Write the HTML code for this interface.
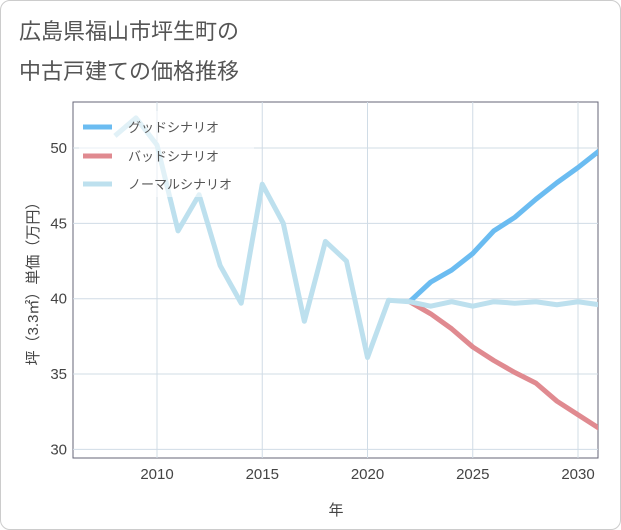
<!DOCTYPE html>
<html><head><meta charset="utf-8"><style>
body{margin:0;background:#fff;font-family:"Liberation Sans","Noto Sans CJK JP",sans-serif;}
#wrap{position:relative;width:619px;height:528px;border:1px solid #ccc;border-radius:10px;overflow:hidden}
</style></head><body>
<div id="wrap">
<svg id="c" width="619" height="528">
<text x="18" y="38" font-size="22" fill="#555">広島県福山市坪生町の</text>
<text x="18" y="78" font-size="22" fill="#555">中古戸建ての価格推移</text>
<rect x="72" y="101" width="525" height="356" fill="#fff" stroke="#667"/>
<g id="grid"></g><g id="series"></g>
<text x="335" y="514" font-size="15" fill="#444" text-anchor="middle">年</text>
<text transform="translate(37,279) rotate(-90)" font-size="15" fill="#444" text-anchor="middle">坪（3.3㎡）単価（万円）</text>
<g>
<rect x="78" y="110" width="175" height="86" fill="#fff" opacity="0.55"/>
<line x1="82" y1="126" x2="111" y2="126" stroke="#6bbcf1" stroke-width="5"/><text x="127" y="131" font-size="13" fill="#555">グッドシナリオ</text>
<line x1="82" y1="155" x2="111" y2="155" stroke="#e08a90" stroke-width="5"/><text x="127" y="160" font-size="13" fill="#555">バッドシナリオ</text>
<line x1="82" y1="183" x2="111" y2="183" stroke="#bde0ee" stroke-width="5"/><text x="127" y="188" font-size="13" fill="#555">ノーマルシナリオ</text>
</g>
</svg></div>
<script>
const normalYears=[2008,2009,2010,2011,2012,2013,2014,2015,2016,2017,2018,2019,2020,2021,2022,2023,2024,2025,2026,2027,2028,2029,2030,2031];
const normalVals=[50.8,52,50.2,44.5,46.9,42.2,39.7,47.6,45,38.5,43.8,42.5,36.1,39.9,39.8,39.5,39.8,39.5,39.8,39.7,39.8,39.6,39.8,39.6];
const futureYears=[2022,2023,2024,2025,2026,2027,2028,2029,2030,2031];
const goodVals=[39.8,41.1,41.9,43,44.5,45.4,46.6,47.7,48.7,49.8];
const badVals=[39.8,39,38,36.8,35.9,35.1,34.4,33.2,32.3,31.4];
const xTicks=[2010,2015,2020,2025,2030];
const yTicks=[30,35,40,45,50];
const NS='http://www.w3.org/2000/svg';
const X=y=>156+(y-2010)*21.05, Y=v=>147+(50-v)*15.07;
const grid=document.getElementById('grid'), ser=document.getElementById('series');
function mk(t,a,p){const e=document.createElementNS(NS,t);for(const k in a)e.setAttribute(k,a[k]);p.appendChild(e);return e;}
xTicks.forEach(t=>{const l=mk('line',{x1:X(t),x2:X(t),y1:101,y2:457,stroke:'#d0dce6'},grid);


const s=mk('text',{x:X(t),y:478,'font-size':15,fill:'#444','text-anchor':'middle'},grid);s.textContent=t;

});
yTicks.forEach(t=>{const l=mk('line',{x1:72,x2:597,y1:Y(t),y2:Y(t),stroke:'#d0dce6'},grid);


const s=mk('text',{x:66,y:Y(t)+5,'font-size':15,fill:'#444','text-anchor':'end'},grid);s.textContent=t;

});
function line(xs,vs,col,name){const p=mk('polyline',{points:xs.map((x,i)=>X(x)+','+Y(vs[i])).join(' '),fill:'none',stroke:col,'stroke-width':5,'stroke-linejoin':'round'},ser);

}
line(futureYears,goodVals,'#6bbcf1','good-scenario-line');
line(futureYears,badVals,'#e08a90','bad-scenario-line');
line(normalYears,normalVals,'#bde0ee','normal-scenario-line');
const cp=mk('clipPath',{id:'cl'},document.getElementById('c'));mk('rect',{x:72,y:101,width:525,height:356},cp);
ser.setAttribute('clip-path','url(#cl)');
</script>
</body></html>
